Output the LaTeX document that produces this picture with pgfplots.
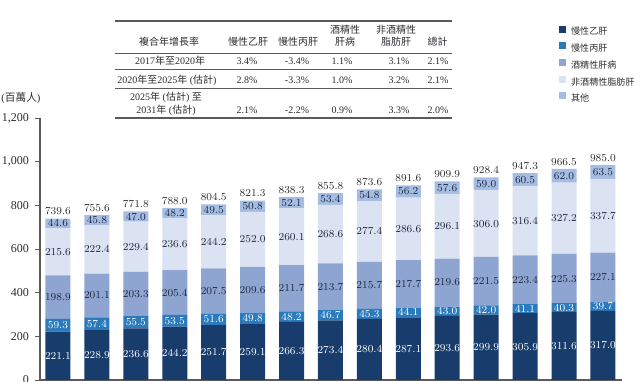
\documentclass[border=0pt]{standalone}
\usepackage{pgfplots}
\pgfplotsset{compat=1.18}
\usepackage{pgfplotstable}
\usepackage{fontspec}
\setmainfont{Liberation Serif}
\newfontfamily\cjk{Noto Sans CJK TC}
\newcommand\C[1]{{\cjk #1}}
\newcommand\lblfont{\fontsize{8.4}{9}\selectfont}
\newcommand\tabfont{\fontsize{7.5}{9}\selectfont}
\definecolor{c1}{RGB}{24,60,108}
\definecolor{c2}{RGB}{42,122,188}
\definecolor{c3}{RGB}{142,165,209}
\definecolor{c4}{RGB}{219,226,241}
\definecolor{c5}{RGB}{165,189,226}
\definecolor{txt}{RGB}{45,45,50}
\definecolor{lbl}{RGB}{30,40,65}
\definecolor{axc}{RGB}{90,90,90}

\pgfplotstableread{
x hb hc ald nafld oth tot
0 221.1 59.3 198.9 215.6 44.6 739.6
1 228.9 57.4 201.1 222.4 45.8 755.6
2 236.6 55.5 203.3 229.4 47.0 771.8
3 244.2 53.5 205.4 236.6 48.2 788.0
4 251.7 51.6 207.5 244.2 49.5 804.5
5 259.1 49.8 209.6 252.0 50.8 821.3
6 266.3 48.2 211.7 260.1 52.1 838.3
7 273.4 46.7 213.7 268.6 53.4 855.8
8 280.4 45.3 215.7 277.4 54.8 873.6
9 287.1 44.1 217.7 286.6 56.2 891.6
10 293.6 43.0 219.6 296.1 57.6 909.9
11 299.9 42.0 221.5 306.0 59.0 928.4
12 305.9 41.1 223.4 316.4 60.5 947.3
13 311.6 40.3 225.3 327.2 62.0 966.5
14 317.0 39.7 227.1 337.7 63.5 985.0
}\datatable

\pgfplotsset{
  geom/.style={at={(30pt,1.5pt)}, anchor=south west,
    width=436.5pt, height=196.5pt, scale only axis,
    xmin=-0.462, xmax=14.49, ymin=0, ymax=1200, clip=false},
  lab/.style={draw=none, mark=none, forget plot, point meta=explicit,
    nodes near coords={\pgfmathprintnumber[fixed,fixed zerofill,precision=1]{\pgfplotspointmeta}},
    every node near coord/.append style={anchor=center, inner sep=0pt, font=\lblfont, text=#1}},
}

\begin{document}
\begin{tikzpicture}
\useasboundingbox (0,0) rectangle (480pt,286.5pt);
\begin{axis}[geom,
  ybar stacked, bar width=0.642,
  axis x line=bottom, axis y line=left,
  axis line style={draw=axc, line width=0.8pt, -},
  xtick=\empty,
  ytick={0,200,400,600,800,1000,1200},
  yticklabels={0,200,400,600,800,{1,000},{1,200}},
  tick align=outside, major tick length=3.75pt,
  ytick style={draw=axc, line width=0.6pt},
  yticklabel style={font=\fontsize{9}{10}\selectfont, text=txt, xshift=-1pt},
  /pgf/number format/assume math mode=true,
  legend style={at={(0.885,1.364)}, anchor=north west, draw=none, fill=none,
    font=\cjk\fontsize{6.8}{8}\selectfont, text=txt,
    row sep=4.4pt, column sep=3.6pt,
    nodes={inner sep=0pt, text height=5.8pt, text depth=1.2pt}},
  legend cell align=left,
  legend image code/.code={\fill[#1] (0pt,-0.6pt) rectangle (5.25pt,4.65pt);},
]
\addplot[draw=none, fill=c1] table[x=x,y=hb]{\datatable};
\addplot[draw=none, fill=c2] table[x=x,y=hc]{\datatable};
\addplot[draw=none, fill=c3] table[x=x,y=ald]{\datatable};
\addplot[draw=none, fill=c4] table[x=x,y=nafld]{\datatable};
\addplot[draw=none, fill=c5] table[x=x,y=oth]{\datatable};
\legend{\C{慢性乙肝},\C{慢性丙肝},\C{酒精性肝病},\C{非酒精性脂肪肝},\C{其他}}
\end{axis}
% labels: same geometry, values placed at the middle of each segment
\begin{axis}[geom, hide axis]
\addplot[lab=white] table[x=x, y expr={\thisrow{hb}/2}, meta=hb]{\datatable};
\addplot[lab=white] table[x=x, y expr={\thisrow{hb}+\thisrow{hc}/2}, meta=hc]{\datatable};
\addplot[lab=lbl] table[x=x, y expr={\thisrow{hb}+\thisrow{hc}+\thisrow{ald}/2}, meta=ald]{\datatable};
\addplot[lab=lbl] table[x=x, y expr={\thisrow{hb}+\thisrow{hc}+\thisrow{ald}+\thisrow{nafld}/2}, meta=nafld]{\datatable};
\addplot[lab=lbl] table[x=x, y expr={\thisrow{hb}+\thisrow{hc}+\thisrow{ald}+\thisrow{nafld}+\thisrow{oth}/2}, meta=oth]{\datatable};
\addplot[lab=txt, every node near coord/.append style={anchor=south, yshift=2.6pt}] table[x=x, y=tot, meta=tot]{\datatable};
\end{axis}

\begin{scope}[x=0.75pt,y=-0.75pt,yshift=286.5pt]
  \node[font=\fontsize{8}{9}\selectfont, text=txt] at (21,98) {(\C{百萬人})};
  % table rules
  \draw[axc, line width=1.1pt] (115,21) -- (452,21);
  \draw[axc, line width=0.8pt] (115,53.5) -- (452,53.5);
  \draw[axc, line width=0.8pt] (115,69.5) -- (452,69.5);
  \draw[axc, line width=0.8pt] (115,88.5) -- (452,88.5);
  \draw[axc, line width=1.0pt] (115,118) -- (452,118);
  \begin{scope}[every node/.style={font=\tabfont, text=txt, align=center, inner sep=0pt}]
    % header
    \node at (169,42) {\C{複合年增長率}};
    \node at (248,42) {\C{慢性乙肝}};
    \node at (298,42) {\C{慢性丙肝}};
    \node at (345,36) {\C{酒精性}\\\C{肝病}};
    \node at (396,36) {\C{非酒精性}\\\C{脂肪肝}};
    \node at (437.5,42) {\C{總計}};
    % row 1
    \node at (170,61) {2017\C{年至}2020\C{年}};
    \node at (247,61) {3.4\%};
    \node at (297,61) {-3.4\%};
    \node at (342,61) {1.1\%};
    \node at (399,61) {3.1\%};
    \node at (438,61) {2.1\%};
    % row 2
    \node at (167,80) {2020\C{年至}2025\C{年} (\C{估計})};
    \node at (247,80) {2.8\%};
    \node at (297,80) {-3.3\%};
    \node at (342,80) {1.0\%};
    \node at (399,80) {3.2\%};
    \node at (438,80) {2.1\%};
    % row 3
    \node[font=\fontsize{7.5}{9.75}\selectfont] at (166,103.5) {2025\C{年} (\C{估計}) \C{至}\\2031\C{年} (\C{估計})};
    \node at (247,110) {2.1\%};
    \node at (297,110) {-2.2\%};
    \node at (342,110) {0.9\%};
    \node at (399,110) {3.3\%};
    \node at (438,110) {2.0\%};
  \end{scope}
\end{scope}
\end{tikzpicture}
\end{document}
